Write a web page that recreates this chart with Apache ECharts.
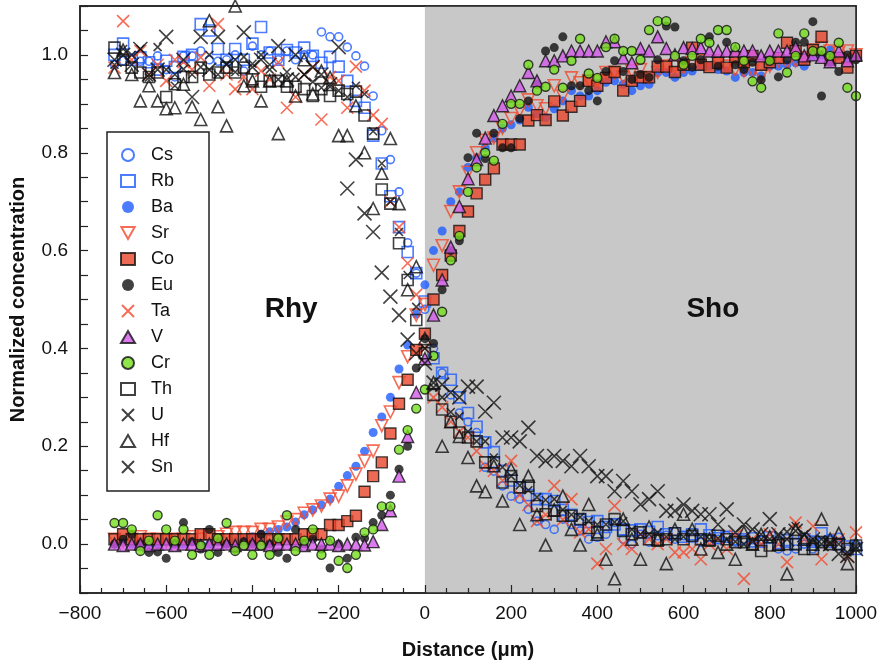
<!DOCTYPE html>
<html>
<head>
<meta charset="utf-8">
<script src="https://cdn.jsdelivr.net/npm/echarts@6/dist/echarts.min.js"></script>
<style>
  html, body { margin: 0; padding: 0; background: #fff; }
  #chart { width: 883px; height: 670px; }
</style>
</head>
<body>
<div id="chart"></div>
<script>
// distance along the traverse (µm), shared by all elements
const distance = [
  -720, -700, -680, -660, -640, -620, -600, -580, -560, -540,
  -520, -500, -480, -460, -440, -420, -400, -380, -360, -340,
  -320, -300, -280, -260, -240, -220, -200, -180, -160, -140,
  -120, -100, -80, -60, -40, -20, 0,
  20, 40, 60, 80, 100, 120, 140, 160, 180, 200,
  220, 240, 260, 280, 300, 320, 340, 360, 380, 400,
  420, 440, 460, 480, 500, 520, 540, 560, 580, 600,
  620, 640, 660, 680, 700, 720, 740, 760, 780, 800,
  820, 840, 860, 880, 900, 920, 940, 960, 980, 1000
];

// normalized concentrations, one list per element
const Cs = [
  0.98, 0.988, 0.99, 0.987, 0.987, 0.998, 0.97, 0.955, 0.998, 0.998,
  1.008, 0.99, 0.987, 0.99, 1.0, 0.967, 1.018, 1.0, 1.008, 0.99,
  1.008, 0.99, 1.0, 1.0, 1.047, 1.037, 1.037, 1.016, 0.998, 0.977,
  0.916, 0.845, 0.786, 0.72, 0.616, 0.554, 0.48,
  0.40, 0.35, 0.305, 0.268, 0.25, 0.228, 0.157, 0.149, 0.119, 0.098,
  0.092, 0.071, 0.047, 0.04, 0.03, 0.051, 0.04, 0.027, 0.01, 0.014,
  0.02, 0.044, 0.01, 0.0, 0.02, 0.004, 0.017, 0.018, 0.01, 0.017,
  0.012, 0.004, 0.014, 0.01, 0.017, 0.004, 0.01, 0.002, 0.008, 0.01,
  -0.01, -0.014, -0.01, 0.0, -0.01, 0.005, 0.012, 0.014, -0.01, 0.0
];
const Rb = [
  1.0, 1.023, 0.99, 0.995, 0.985, 0.97, 0.988, 0.975, 0.996, 1.0,
  1.063, 1.05, 1.012, 0.99, 1.012, 0.99, 1.023, 1.057, 1.005, 0.99,
  1.01, 1.005, 1.015, 0.998, 0.984, 0.996, 0.976, 0.947, 0.906, 0.892,
  0.835, 0.778, 0.711, 0.648, 0.597, 0.554, 0.496,
  0.38, 0.35, 0.336, 0.30, 0.268, 0.24, 0.208, 0.188, 0.15, 0.13,
  0.116, 0.10, 0.092, 0.092, 0.088, 0.07, 0.06, 0.05, 0.045, 0.047,
  0.035, 0.04, 0.03, 0.028, 0.03, 0.025, 0.035, 0.02, 0.022, 0.015,
  0.02, 0.03, 0.018, 0.012, 0.015, 0.01, 0.01, 0.012, 0.005, 0.014,
  0.002, 0.008, 0.0, 0.01, 0.005, 0.022, 0.005, 0.0, -0.005, -0.01
];
const Ba = [
  0.0, 0.005, 0.0, 0.005, 0.0, 0.0, 0.005, 0.0, 0.0, 0.005,
  0.0, 0.0, 0.005, 0.0, 0.005, 0.01, 0.015, 0.02, 0.025, 0.03,
  0.035, 0.045, 0.06, 0.07, 0.08, 0.092, 0.118, 0.14, 0.159, 0.19,
  0.228, 0.26, 0.30, 0.358, 0.407, 0.47, 0.53,
  0.60, 0.64, 0.70, 0.72, 0.77, 0.79, 0.81, 0.83, 0.85, 0.857,
  0.867, 0.893, 0.88, 0.872, 0.89, 0.906, 0.927, 0.916, 0.916, 0.927,
  0.944, 0.947, 0.94, 0.927, 0.937, 0.94, 0.964, 0.964, 0.954, 0.964,
  0.967, 0.977, 0.977, 0.97, 0.967, 0.954, 0.964, 0.964, 0.957, 0.977,
  0.977, 0.98, 0.984, 0.977, 0.998, 1.0, 1.01, 0.998, 0.99, 1.0
];
const Sr = [
  0.01, 0.005, 0.01, 0.015, 0.01, 0.01, 0.005, 0.01, 0.01, 0.015,
  0.01, 0.01, 0.015, 0.02, 0.024, 0.024, 0.024, 0.03, 0.03, 0.035,
  0.045, 0.05, 0.063, 0.07, 0.078, 0.092, 0.098, 0.119, 0.143, 0.17,
  0.19, 0.242, 0.27, 0.33, 0.383, 0.468, 0.49,
  0.57, 0.61, 0.68, 0.72, 0.76, 0.80, 0.825, 0.83, 0.85, 0.87,
  0.886, 0.908, 0.896, 0.89, 0.937, 0.916, 0.953, 0.943, 0.947, 0.947,
  0.964, 0.964, 0.954, 0.967, 0.97, 0.954, 0.964, 0.977, 0.977, 0.974,
  0.984, 0.988, 0.988, 0.988, 0.977, 0.97, 0.967, 0.967, 0.957, 0.977,
  0.988, 0.984, 0.988, 0.994, 1.01, 1.015, 1.008, 1.005, 1.008, 1.0
];
const Co = [
  0.01, 0.02, 0.01, 0.01, 0.01, 0.01, 0.01, 0.01, 0.01, 0.01,
  0.02, 0.02, 0.01, 0.01, 0.01, 0.01, 0.01, 0.01, 0.01, 0.01,
  0.01, 0.01, 0.02, 0.02, 0.02, 0.039, 0.039, 0.047, 0.058, 0.107,
  0.139, 0.167, 0.226, 0.287, 0.336, 0.397, 0.43,
  0.50, 0.55, 0.59, 0.64, 0.68, 0.717, 0.745, 0.768, 0.817, 0.817,
  0.817, 0.866, 0.877, 0.867, 0.905, 0.876, 0.894, 0.906, 0.947, 0.937,
  0.953, 0.965, 0.927, 0.947, 0.954, 0.954, 0.976, 0.976, 0.965, 0.98,
  1.015, 0.98, 0.975, 0.984, 0.974, 0.996, 0.985, 0.998, 0.98, 0.985,
  0.994, 1.025, 1.008, 0.99, 1.01, 1.037, 0.99, 0.994, 0.974, 0.998
];
const Eu = [
  0.0, 0.01, 0.02, 0.0, -0.017, -0.016, -0.029, 0.0, 0.044, 0.005,
  -0.01, 0.03, -0.017, 0.0, -0.01, 0.005, 0.0, 0.02, 0.0, -0.017,
  -0.029, 0.03, 0.0, 0.01, -0.01, -0.049, 0.0, -0.029, 0.014, 0.012,
  0.044, 0.059, 0.10, 0.153, 0.20, 0.36, 0.42,
  0.41, 0.52, 0.60, 0.62, 0.79, 0.84, 0.788, 0.84, 0.81, 0.81,
  0.87, 0.906, 0.94, 1.008, 1.015, 1.037, 0.937, 0.937, 0.927, 0.906,
  0.966, 0.988, 0.966, 0.95, 0.96, 0.954, 0.99, 1.059, 1.057, 0.988,
  0.975, 0.99, 1.037, 0.977, 1.026, 0.98, 0.97, 0.985, 0.949, 0.99,
  0.955, 0.99, 1.026, 1.026, 1.068, 0.916, 0.985, 0.966, 1.0, 0.99
];
const Ta = [
  0.974, 1.069, 0.99, 1.008, 0.96, 0.98, 0.947, 0.99, 0.985, 0.97,
  0.995, 0.937, 1.063, 0.96, 0.93, 0.955, 0.93, 0.967, 0.95, 0.985,
  0.892, 0.914, 0.96, 0.975, 0.868, 0.955, 0.947, 0.892, 0.976, 0.927,
  0.877, 0.859, 0.70, 0.648, 0.574, 0.51, 0.40,
  0.30, 0.28, 0.25, 0.23, 0.218, 0.19, 0.16, 0.15, 0.13, 0.17,
  0.10, 0.08, 0.047, 0.06, 0.119, 0.05, 0.092, 0.024, 0.03, -0.04,
  -0.01, 0.078, 0.0, -0.01, 0.02, 0.01, 0.0, 0.01, -0.017, -0.017,
  -0.01, -0.031, 0.0, 0.01, -0.01, 0.017, -0.071, 0.01, 0.0, 0.02,
  0.0, -0.037, 0.044, 0.01, 0.037, -0.031, 0.0, 0.01, -0.024, 0.024
];
const V = [
  0.0, -0.003, 0.0, 0.0, -0.003, 0.0, 0.0, -0.003, 0.0, 0.0,
  -0.003, 0.0, 0.0, 0.0, -0.003, 0.0, 0.0, 0.0, -0.003, 0.0,
  0.0, 0.0, -0.003, 0.0, 0.0, 0.0, -0.003, 0.0, 0.0, -0.002,
  0.005, 0.04, 0.068, 0.139, 0.22, 0.31, 0.379,
  0.468, 0.54, 0.607, 0.69, 0.747, 0.786, 0.83, 0.876, 0.896, 0.916,
  0.937, 0.964, 0.947, 0.988, 0.988, 0.998, 1.008, 1.008, 1.008, 1.008,
  1.027, 1.027, 0.994, 0.984, 1.013, 1.008, 1.037, 1.013, 1.0, 1.015,
  1.013, 1.015, 1.008, 1.008, 1.008, 1.008, 1.008, 1.008, 0.998, 1.008,
  1.008, 1.008, 1.015, 0.998, 1.0, 0.995, 0.986, 1.008, 0.988, 1.0
];
const Cr = [
  0.043, 0.043, 0.03, -0.014, 0.007, 0.059, 0.03, 0.007, 0.03, -0.022,
  -0.003, -0.022, 0.012, 0.043, -0.014, -0.003, -0.022, -0.003, -0.022, 0.012,
  0.059, -0.014, 0.007, 0.03, -0.022, 0.007, -0.034, -0.049, -0.022, 0.024,
  0.03, 0.077, 0.077, 0.193, 0.233, 0.277, 0.316,
  0.385, 0.475, 0.58, 0.63, 0.72, 0.77, 0.80, 0.784, 0.859, 0.90,
  0.90, 0.98, 0.927, 0.935, 0.97, 0.933, 0.988, 1.033, 0.962, 0.953,
  1.016, 1.033, 1.008, 1.008, 0.99, 1.051, 1.069, 1.069, 0.998, 0.98,
  0.998, 1.033, 1.025, 1.051, 1.051, 1.016, 0.988, 0.946, 0.933, 0.988,
  1.044, 0.964, 0.998, 1.044, 1.008, 1.008, 0.998, 1.025, 0.933, 0.916
];
const Th = [
  1.015, 0.99, 0.974, 0.964, 0.955, 0.964, 0.914, 0.94, 0.955, 0.955,
  0.974, 0.96, 0.964, 0.974, 0.964, 0.974, 0.95, 0.935, 0.947, 0.947,
  0.935, 0.935, 0.93, 0.916, 0.93, 0.916, 0.927, 0.92, 0.925, 0.876,
  0.839, 0.725, 0.696, 0.615, 0.54, 0.458, 0.39,
  0.305, 0.275, 0.25, 0.228, 0.218, 0.21, 0.167, 0.167, 0.126, 0.139,
  0.116, 0.119, 0.078, 0.061, 0.068, 0.058, 0.058, 0.051, 0.033, 0.024,
  0.04, 0.051, 0.027, 0.02, 0.024, 0.01, 0.007, 0.01, 0.022, 0.01,
  0.017, 0.01, 0.007, 0.017, 0.01, 0.004, 0.004, 0.0, -0.014, -0.003,
  -0.002, 0.0, 0.0, -0.01, -0.01, 0.004, 0.0, 0.0, -0.01, -0.003
];
const U = [
  0.98, 1.012, 1.0, 1.012, 0.954, 1.016, 0.97, 0.937, 0.971, 0.96,
  0.975, 1.0, 0.96, 0.982, 0.965, 0.996, 0.982, 1.0, 0.97, 0.95,
  0.965, 0.955, 0.96, 0.945, 0.933, 0.935, 0.927, 0.914, 0.937, 0.92,
  0.844, 0.778, 0.70, 0.638, 0.55, 0.485, 0.40,
  0.32, 0.30, 0.27, 0.261, 0.23, 0.21, 0.21, 0.177, 0.157, 0.139,
  0.12, 0.11, 0.096, 0.09, 0.092, 0.07, 0.06, 0.055, 0.047, 0.04,
  0.04, 0.045, 0.047, 0.03, 0.02, 0.02, 0.024, 0.015, 0.01, 0.015,
  0.024, 0.015, 0.01, 0.012, 0.01, 0.005, 0.0, 0.005, 0.01, 0.01,
  0.017, 0.025, 0.037, 0.02, 0.004, 0.01, 0.004, 0.0, -0.017, -0.005
];
const Hf = [
  0.964, 1.01, 0.96, 0.906, 0.937, 0.906, 0.89, 0.892, 0.94, 0.894,
  0.868, 1.07, 0.894, 0.855, 1.1, 0.937, 0.947, 0.906, 0.947, 0.839,
  0.947, 0.916, 0.99, 0.92, 0.967, 0.954, 0.835, 0.835, 0.896, 0.80,
  0.686, 0.758, 0.829, 0.696, 0.52, 0.567, 0.42,
  0.33, 0.20, 0.25, 0.22, 0.177, 0.119, 0.107, 0.16, 0.088, 0.153,
  0.04, 0.139, 0.06, -0.002, 0.07, 0.098, 0.03, -0.002, 0.081, 0.02,
  -0.031, -0.071, 0.051, 0.01, -0.031, 0.035, 0.01, -0.04, 0.03, 0.061,
  0.03, -0.01, 0.01, -0.017, 0.0, -0.031, 0.024, 0.0, 0.02, 0.015,
  0.0, -0.061, 0.03, 0.01, 0.0, 0.051, 0.01, 0.022, -0.04, 0.0
];
const Sn = [
  0.99, 1.0, 0.98, 1.012, 0.96, 0.97, 1.037, 0.96, 0.99, 0.914,
  1.037, 0.97, 1.037, 0.98, 0.99, 1.046, 0.975, 0.99, 0.98, 1.018,
  0.95, 1.0, 0.96, 0.975, 0.96, 0.94, 1.016, 0.727, 0.786, 0.676,
  0.638, 0.555, 0.506, 0.468, 0.418, 0.39, 0.37,
  0.33, 0.326, 0.31, 0.30, 0.322, 0.322, 0.271, 0.289, 0.218, 0.218,
  0.21, 0.238, 0.18, 0.17, 0.18, 0.17, 0.159, 0.18, 0.159, 0.139,
  0.139, 0.108, 0.129, 0.108, 0.081, 0.092, 0.108, 0.068, 0.068, 0.081,
  0.068, 0.061, 0.061, 0.04, 0.071, 0.024, 0.04, 0.03, 0.02, 0.051,
  0.02, 0.01, 0.027, 0.018, 0.01, 0.0, 0.0, -0.02, -0.024, -0.01
];

const elements = ['Cs', 'Rb', 'Ba', 'Sr', 'Co', 'Eu', 'Ta', 'V', 'Cr', 'Th', 'U', 'Hf', 'Sn'];
const values = { Cs, Rb, Ba, Sr, Co, Eu, Ta, V, Cr, Th, U, Hf, Sn };

// axis ranges and the two zones
const xMin = -800, xMax = 1000;
const yMin = -0.1, yMax = 1.1;
const interfaceX = 0;
const zoneLabels = [
  { text: 'Rhy', x: -310, y: 0.48 },
  { text: 'Sho', x: 668, y: 0.48 }
];

// marker styles
const blue = '#1f5cff', red = '#f2482c', black = '#111111';
const cross = 'path://M0,0L10,10M10,0L0,10';
const downTri = 'path://M0,0L10,0L5,9Z';
const hollow = (c) => ({ color: 'transparent', borderColor: c, borderWidth: 1.6 });
const markers = {
  Cs: { symbol: 'circle', symbolSize: 8, itemStyle: hollow(blue) },
  Rb: { symbol: 'rect', symbolSize: 11, itemStyle: hollow(blue) },
  Ba: { symbol: 'circle', symbolSize: 9, itemStyle: { color: blue } },
  Sr: { symbol: downTri, symbolSize: 12, itemStyle: hollow(red) },
  Co: { symbol: 'rect', symbolSize: 11, itemStyle: { color: '#e8452a', borderColor: black, borderWidth: 1.4 } },
  Eu: { symbol: 'circle', symbolSize: 9, itemStyle: { color: black } },
  Ta: { symbol: cross, symbolSize: 12, itemStyle: hollow(red) },
  V: { symbol: 'triangle', symbolSize: 12, itemStyle: { color: '#d35ae8', borderColor: black, borderWidth: 1.4 } },
  Cr: { symbol: 'circle', symbolSize: 9, itemStyle: { color: '#74de1e', borderColor: black, borderWidth: 1.4 } },
  Th: { symbol: 'rect', symbolSize: 11, itemStyle: hollow(black) },
  U: { symbol: cross, symbolSize: 8, itemStyle: hollow(black) },
  Hf: { symbol: 'triangle', symbolSize: 12, itemStyle: hollow(black) },
  Sn: { symbol: cross, symbolSize: 14, itemStyle: hollow(black) }
};

const font = 'Liberation Sans, Arial, sans-serif';
const chart = echarts.init(document.getElementById('chart'), null, { renderer: 'canvas' });

const series = [
  // shaded shoshonite side
  {
    type: 'scatter', name: 'zone', data: [], z: 1, silent: true,
    markArea: {
      silent: true,
      itemStyle: { color: '#c8c8c8' },
      data: [[{ xAxis: interfaceX, yAxis: yMin }, { xAxis: xMax, yAxis: yMax }]]
    }
  }
].concat(elements.map((name) => Object.assign({
  type: 'scatter',
  name: name,
  data: distance.map((d, i) => [d, values[name][i]]),
  silent: true,
  animation: false
}, markers[name])));

const frameAxis = {
  type: 'value', z: 10,
  axisLine: { show: true, onZero: false, lineStyle: { color: '#222', width: 1.5 } },
  axisTick: { show: false }, axisLabel: { show: false }, splitLine: { show: false }
};

const option = {
  animation: false,
  grid: { left: 80, right: 27, top: 6, bottom: 77, show: true, backgroundColor: '#fff', borderColor: '#222', borderWidth: 1.5 },
  legend: {
    data: elements,
    orient: 'vertical',
    left: 107, top: 132,
    itemWidth: 14, itemHeight: 12, itemGap: 8,
    padding: [14, 35, 15, 13],
    borderColor: '#222', borderWidth: 1.5, borderRadius: 0,
    backgroundColor: '#fff',
    selectedMode: false,
    textStyle: { fontFamily: font, fontSize: 18, lineHeight: 18, color: '#111', padding: [0, 0, 0, 11] }
  },
  xAxis: [{
    type: 'value', min: xMin, max: xMax, interval: 200, z: 10,
    name: 'Distance (μm)', nameLocation: 'middle', nameGap: 47,
    nameTextStyle: { fontFamily: font, fontSize: 20, fontWeight: 'bold', color: '#111' },
    axisLine: { show: true, onZero: false, lineStyle: { color: '#222', width: 1.5 } },
    axisTick: { show: true, inside: true, length: 8, lineStyle: { color: '#222', width: 1.2 } },
    minorTick: { show: true, splitNumber: 4, length: 5, lineStyle: { color: '#222', width: 1.2 } },
    axisLabel: { fontFamily: font, fontSize: 19, color: '#111', margin: 11, formatter: (v) => String(v).replace('-', '\u2212') },
    splitLine: { show: false }
  }, Object.assign({ min: xMin, max: xMax, position: 'top' }, frameAxis)],
  yAxis: [{
    type: 'value', min: yMin, max: yMax, interval: 0.1, z: 10,
    name: 'Normalized concentration', nameLocation: 'middle', nameGap: 52,
    nameTextStyle: { fontFamily: font, fontSize: 20, fontWeight: 'bold', color: '#111' },
    axisLine: { show: true, onZero: false, lineStyle: { color: '#222', width: 1.5 } },
    axisTick: { show: true, inside: true, length: 8, lineStyle: { color: '#222', width: 1.2 } },
    minorTick: { show: true, splitNumber: 2, length: 8, lineStyle: { color: '#222', width: 1.2 } },
    axisLabel: {
      fontFamily: font, fontSize: 19, color: '#111', margin: 12,
      formatter: (v) => (Math.round(v * 10) % 2 === 0 && v >= 0 && v <= 1 ? v.toFixed(1) : '')
    },
    splitLine: { show: false }
  }, Object.assign({ min: yMin, max: yMax, position: 'right' }, frameAxis)],
  series: series
};

chart.setOption(option);

// zone names placed at data coordinates
chart.setOption({
  graphic: zoneLabels.map((z) => {
    const p = chart.convertToPixel({ gridIndex: 0 }, [z.x, z.y]);
    return {
      type: 'text', x: p[0], y: p[1], z: 20,
      style: { text: z.text, fontFamily: font, fontSize: 28, fontWeight: 'bold', fill: '#111', align: 'center', verticalAlign: 'middle' }
    };
  })
});
</script>
</body>
</html>
